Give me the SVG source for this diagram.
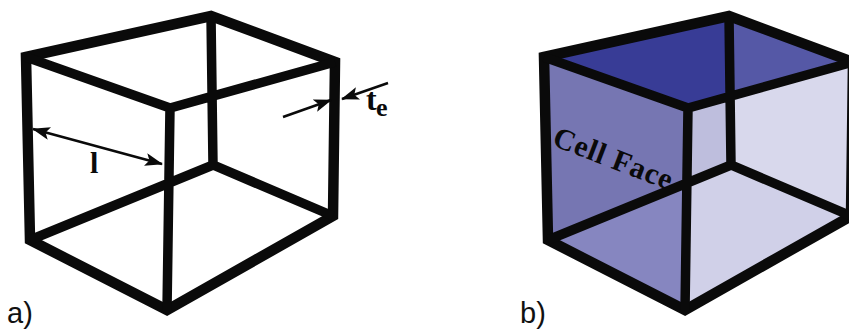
<svg xmlns="http://www.w3.org/2000/svg" width="849" height="333" viewBox="0 0 849 333">
<style>
.frame{fill:none;stroke:#0a0a0a;stroke-linejoin:miter;stroke-miterlimit:6}
.outer{stroke-width:10.5}
.inner{stroke-width:9.5}
.thin{fill:none;stroke:#0a0a0a;stroke-width:2.5}
.head{fill:#0a0a0a}
.ser{font-family:"Liberation Serif",serif;font-weight:bold;fill:#0a0a0a}
.san{font-family:"Liberation Sans",sans-serif;font-size:29px;fill:#111}
</style>
<defs>
<marker id="ah" viewBox="0 0 18 13" refX="17" refY="6.5" markerWidth="18" markerHeight="13" markerUnits="userSpaceOnUse" orient="auto-start-reverse">
<path class="head" d="M0 0L18 6.5L0 13L4 6.5Z"/>
</marker>
<g id="wire">
<path class="frame outer" d="M26 57L211 16L335 62L333 216L167 310L30 240Z"/>
<path class="frame inner" d="M26 57L170 108L335 62M170 108L167 310M30 240L213 165L333 216M211 16L213 165"/>
</g>
</defs>
<g id="cube-a">
<use href="#wire"/>
</g>
<g id="cube-b">
<path fill="#383c96" d="M544 57L729 16L730 165L688 108Z"/>
<path fill="#5558a6" d="M729 16L853 62L730 96Z"/>
<path fill="#7676b2" d="M544 57L688 108L685 190L548 240Z"/>
<path fill="#8686c0" d="M548 240L686 186L685 310Z"/>
<path fill="#bebedd" d="M688 108L730 96L731 165L686 186Z"/>
<path fill="#d8d8ec" d="M730 96L853 62L851 216L731 165Z"/>
<path fill="#d0d0e8" d="M686 186L731 165L851 216L685 310Z"/>
<use href="#wire" x="518"/>
</g>
<g id="connectors">
<path class="thin" marker-start="url(#ah)" marker-end="url(#ah)" d="M33 129L162 164"/>
<path class="thin" marker-end="url(#ah)" d="M388 83L342 99"/>
<path class="thin" marker-end="url(#ah)" d="M283 117L331 100"/>
</g>
<g id="labels">
<text class="ser" x="90" y="173" font-size="30">l</text>
<text class="ser" x="366" y="110" font-size="32">t</text>
<text class="ser" x="376" y="116" font-size="26">e</text>
<text class="ser" font-size="30" letter-spacing="0.8" transform="translate(551 145) rotate(21)">Cell Face</text>
<text class="san" x="7" y="323">a)</text>
<text class="san" x="520" y="323">b)</text>
</g>
</svg>
